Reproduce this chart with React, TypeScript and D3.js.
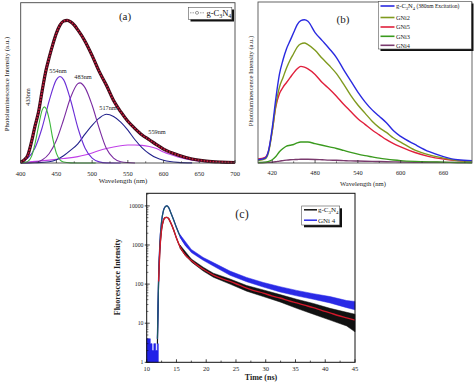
import React from "react";
import * as d3 from "d3";

// ---------- Panel (a): PL spectrum of g-C3N4 with Gaussian components ----------
const wlA = [400,405,410,415,420,425,430,435,440,445,450,455,460,465,470,475,480,490,500,510,520,530,540,550,560,570,580,590,600,620,640,660,680,700];
const envA = [0.5,2,5,13,23,32,45,57,66,74,81,86,88.5,89,88,86,83,76,67,57,48.5,39,32,26,21.5,17.5,14.5,11.5,8.7,5,2.5,1.2,0.6,0.3];

const wl433 = [400,405,410,415,420,425,430,433,436,440,445,450,455,460,470,480,505];
const pk433 = [0,0.3,1,4,12,23,33,35,33.5,27,15,6,2,0.6,0.1,0,0];
const wl454 = [400,410,420,430,440,450,455,460,470,480,490,500,510,520,540];
const pk454 = [0.7,3,9.4,22,39,52,54,52,39,22,9.4,3,0.7,0.1,0];
const wl483 = [400,420,430,440,450,460,470,480,483,490,500,510,520,530,540,560];
const pk483 = [0,0.5,1.9,5.9,14.2,27,41,49.5,50,47,36,21.5,9,3,0.8,0];
const wl517 = [400,420,440,450,460,470,480,490,500,510,520,530,540,550,560,570,580,590,600,620,640];
const pk517 = [0,0.2,0.8,2,4.5,8,12,18,23.5,28,30.4,29,25.5,20.5,14.5,9.5,5.8,3.2,1.7,0.4,0.1];
const wl559 = [400,420,440,460,480,490,500,510,520,530,540,550,560,570,580,590,600,620,640,660,680,700];
const pk559 = [0.3,1,1.8,2.8,4,5,6.3,7.8,9,10,10.8,11.2,11.2,11,10.3,9,6.8,3.8,1.8,0.7,0.4,0.2];

const ticksA = [400,450,500,550,600,650,700];
const minorA = [425,475,525,575,625,675];

// ---------- Panel (b): PL spectra of samples ----------
const wlB = [400,410,415,420,425,430,435,440,445,450,455,460,465,470,480,490,500,510,520,530,540,550,560,570,580,590,600,620,640,660,680,700];
const blueB = [2,3,8,22,40,55,64,71,76,81,86,88.5,89,88,81,76,71,65.5,58,51,44,38,33,29,25,20,16.5,11.5,7,4,2,1.5];
const oliveB = [1.5,2.5,7,20,36,47,53,59,64,68,72,74,74.5,73.5,70,65,60.5,55.5,49,42,36,31,26,22,19,15.5,13,8,5,3,1.5,1];
const redB = [2.5,3.5,8,20,35,43,47,50,53,56,58.5,60,59.5,58.5,55,50,46,41.5,36.5,32,27.5,24,20.5,17.5,14.5,12,10,6.5,4,2.5,1.5,1];
const greenB = [0.3,0.5,1,2,4,7,9,10.5,11,11.5,12.5,13,13,13,12,11,10,9,7.8,6.6,5.5,4.6,3.8,3,2.4,1.9,1.5,1,0.7,0.5,0.3,0.2];
const purpleB = [0.2,0.3,0.4,0.5,0.8,1.2,1.5,1.8,2,2.1,2.2,2.3,2.3,2.3,2.2,2,1.8,1.7,1.5,1.3,1.2,1.1,1,0.9,0.8,0.7,0.6,0.5,0.45,0.4,0.35,0.3];
const ticksB = [420,480,540,600,660];
const minorB = [450,510,570,630,690];

// ---------- Panel (c): fluorescence decay ----------
const tC = [11.8,12.0,12.2,12.5,12.8,13.1,13.4,13.7,14.0,14.5,15,15.6,16.5,17.5,18.4,19.5,21.2,22.5,24,25.5,26.8,28,29.6,31,32.4,34,35.2,36.5,38,39.5,40.8,42,43.6,45];
const blueC = [4,145,1000,4000,7500,9500,10000,9000,7000,4500,2800,1700,1000,700,560,440,320,250,190,150,130,110,96,84,74,65,59,53,48,44,40,36,31,28];
const blackC = [3,116,690,2500,4200,5000,5100,4700,3800,2500,1500,900,550,400,310,240,170,140,117,95,79,68,59,50,44,37,33,29,25,21,18.4,16,13.7,12];
const tNoise = [15.6,17.5,19.5,21.2,24,26.8,29.6,32.4,35.2,38,40.8,43.6,45];
const blackHi = [1000,440,270,190,135,92,71,54,41,32,24,19,17];
const blackLo = [820,370,215,150,100,66,48,35,24,17,12,8.5,6];
const blueHi = [1850,770,480,355,215,148,110,86,69,57,48,38,36];
const blueLo = [1560,640,405,290,168,115,84,63,50,41,33,25,22];
const tPre = [10,10.4,10.6,10.9,11.2,11.5,11.8,11.95];
const bluePre = [4,4,3,2,3,2,3,3];
const ticksCx = [10,15,20,25,30,35,40,45];
const ticksCy = [1,10,100,1000,10000];

const FONT = "'Liberation Serif', 'Times New Roman', serif";

function path(xs: number[], ys: number[], sx: any, sy: any, curve: any = d3.curveMonotoneX) {
  return d3.line<number>().x((_, i) => sx(xs[i])).y((d) => sy(d)).curve(curve)(ys) || "";
}

function Sub({ pre, size }: { pre?: string; size: number }) {
  return null;
}

function GCN({ x, y, size, extra }: { x: number; y: number; size: number; extra?: string }) {
  const s = size * 0.7;
  const dy = size * 0.3;
  return (
    <text x={x} y={y} fontSize={size} fontFamily={FONT} fill="#111">
      <tspan>g-C</tspan>
      <tspan fontSize={s} dy={dy}>3</tspan>
      <tspan dy={-dy}>N</tspan>
      <tspan fontSize={s} dy={dy}>4</tspan>
      {extra ? <tspan dy={-dy} fontSize={size * 0.85}>{extra}</tspan> : null}
    </text>
  );
}

export default function App() {
  // panel a scales
  const xA = d3.scaleLinear().domain([400, 700]).range([20.7, 235]);
  const yA = d3.scaleLinear().domain([0, 100]).range([163, 2.7]);
  // panel b
  const xB = d3.scaleLinear().domain([400, 700]).range([258, 472]);
  const yB = d3.scaleLinear().domain([0, 100]).range([163, 2]);
  // panel c
  const xC = d3.scaleLinear().domain([10, 45]).range([146.7, 355]);
  const yC = d3.scaleLog().domain([1, 21000]).range([362.3, 193.3]);

  const compsA = [
    { xs: wl559, ys: pk559, c: "#c040e8" },
    { xs: wl517, ys: pk517, c: "#22228c" },
    { xs: wl483, ys: pk483, c: "#7a2aa0" },
    { xs: wl454, ys: pk454, c: "#6a2ed6" },
    { xs: wl433, ys: pk433, c: "#3cb83c" },
  ];

  const seriesB = [
    { ys: purpleB, c: "#7a3a6e", name: "GNi4" },
    { ys: greenB, c: "#3a9a1e", name: "GNi3" },
    { ys: redB, c: "#e0203c", name: "GNi5" },
    { ys: oliveB, c: "#7f9a1e", name: "GNi2" },
    { ys: blueB, c: "#2a2ae0", name: "" },
  ];
  const legendB = [
    { c: "#2a2ae0", name: "" },
    { c: "#7f9a1e", name: "GNi2" },
    { c: "#e0203c", name: "GNi5" },
    { c: "#3a9a1e", name: "GNi3" },
    { c: "#7a3a6e", name: "GNi4" },
  ];
  const legYB = [6, 17.5, 27, 36.3, 45.3];

  const minorCy: number[] = [];
  for (let e = 0; e < 5; e++) for (let m = 2; m <= 9; m++) { const v = m * Math.pow(10, e); if (v < 21000) minorCy.push(v); }
  const minorCx = [12.5,17.5,22.5,27.5,32.5,37.5,42.5];

  const band = (xs: number[], lo: number[], hi: number[]) =>
    d3.area<number>().x((_, i) => xC(xs[i])).y0((_, i) => yC(lo[i])).y1((_, i) => yC(hi[i])).curve(d3.curveLinear)(lo) || "";

  const preArea = d3.area<number>().x((_, i) => xC(tPre[i])).y0(yC(1)).y1((d) => yC(d)).curve(d3.curveStepAfter)(bluePre) || "";

  const fitIdx = tC.map((t, i) => i).filter((i) => tC[i] <= 15.6);

  return (
    <svg width={474} height={382} style={{ position: "absolute", left: 0, top: 0, background: "#fff" }} fontFamily={FONT}>
      <rect x={0} y={0} width={474} height={382} fill="#fff" />

      {/* ================= Panel (a) ================= */}
      <g>
        {compsA.map((c, i) => (
          <path key={i} d={path(c.xs, c.ys, xA, yA)} fill="none" stroke={c.c} strokeWidth={1.1} />
        ))}
        <path d={path(wlA, envA, xA, yA)} fill="none" stroke="#3a0a16" strokeWidth={3.2} />
        <path d={path(wlA, envA, xA, yA)} fill="none" stroke="#c8183c" strokeWidth={1.6} strokeDasharray="1.6,1.4" />
        <rect x={20.7} y={2.7} width={235 - 20.7} height={163 - 2.7} fill="none" stroke="#444" strokeWidth={0.9} />
        {ticksA.map((t) => (
          <g key={t}>
            <line x1={xA(t)} x2={xA(t)} y1={163} y2={160} stroke="#333" strokeWidth={0.8} />
            <text x={xA(t)} y={175.5} fontSize={6.5} textAnchor="middle" fill="#222">{t}</text>
          </g>
        ))}
        {minorA.map((t) => (
          <line key={t} x1={xA(t)} x2={xA(t)} y1={163} y2={161.3} stroke="#333" strokeWidth={0.7} />
        ))}
        <text x={123} y={182.5} fontSize={7} textAnchor="middle" fill="#222">Wavelength (nm)</text>
        <text transform="translate(8.5,84) rotate(-90)" fontSize={6.8} textAnchor="middle" fill="#222">Photoluminescence Intensity (a.u.)</text>
        <text x={125} y={19.5} fontSize={11} textAnchor="middle" fill="#222">(a)</text>
        {/* legend */}
        <rect x={190.5} y={9.5} width={43.5} height={12} fill="#111" />
        <rect x={188.3} y={7.3} width={43.5} height={12} fill="#fff" stroke="#555" strokeWidth={0.6} />
        <line x1={190} x2={205} y1={12.8} y2={12.8} stroke="#888" strokeWidth={0.8} strokeDasharray="1.5,1" />
        <circle cx={197} cy={12.8} r={1.5} fill="#fff" stroke="#666" strokeWidth={0.6} />
        <GCN x={206.5} y={15.8} size={8.5} />
        {/* peak labels */}
        <text transform="translate(29.5,97) rotate(-90)" fontSize={6.3} textAnchor="middle" fill="#222">433nm</text>
        <text x={58} y={73} fontSize={6.3} textAnchor="middle" fill="#222">554nm</text>
        <text x={83} y={79} fontSize={6.3} textAnchor="middle" fill="#222">483nm</text>
        <text x={108} y={110} fontSize={6.3} textAnchor="middle" fill="#222">517nm</text>
        <text x={157} y={134} fontSize={6.3} textAnchor="middle" fill="#222">559nm</text>
      </g>

      {/* ================= Panel (b) ================= */}
      <g>
        {seriesB.map((s, i) => (
          <path key={i} d={path(wlB, s.ys, xB, yB)} fill="none" stroke={s.c} strokeWidth={1.4} />
        ))}
        <rect x={258} y={2} width={472 - 258} height={163 - 2} fill="none" stroke="#555" strokeWidth={0.9} />
        {ticksB.map((t) => (
          <g key={t}>
            <line x1={xB(t)} x2={xB(t)} y1={163} y2={160} stroke="#333" strokeWidth={0.8} />
            <text x={xB(t)} y={175} fontSize={6.3} textAnchor="middle" fill="#222">{t}</text>
          </g>
        ))}
        {minorB.map((t) => (
          <line key={t} x1={xB(t)} x2={xB(t)} y1={163} y2={161.3} stroke="#333" strokeWidth={0.7} />
        ))}
        <text x={363} y={185.5} fontSize={6.6} textAnchor="middle" fill="#222">Wavelength (nm)</text>
        <text transform="translate(252.5,81) rotate(-90)" fontSize={6.5} textAnchor="middle" fill="#222">Photoluminescence Intensity (a.u.)</text>
        <text x={343} y={22.5} fontSize={11} textAnchor="middle" fill="#222">(b)</text>
        {/* legend */}
        <rect x={380.5} y={3.5} width={93} height={47.5} fill="#111" />
        <rect x={378.3} y={1.5} width={93} height={47.5} fill="#fff" stroke="#555" strokeWidth={0.6} />
        {legendB.map((l, i) => (
          <g key={i}>
            <line x1={380.5} x2={394.5} y1={legYB[i]} y2={legYB[i]} stroke={l.c} strokeWidth={1.6} />
            {i === 0 ? (
              <GCN x={396} y={legYB[i] + 2.3} size={6.5} extra=" (380nm Excitation)" />
            ) : (
              <text x={396} y={legYB[i] + 2.3} fontSize={6.3} fill="#222">{l.name}</text>
            )}
          </g>
        ))}
      </g>

      {/* ================= Panel (c) ================= */}
      <g>
        <path d={preArea} fill="#2222e8" stroke="#2222e8" strokeWidth={0.6} />
        {/* g-C3N4 data + fit */}
        <path d={band(tNoise, blackLo, blackHi)} fill="#111" stroke="#111" strokeWidth={0.5} />
        <path d={path(tC, blackC, xC, yC)} fill="none" stroke="#111" strokeWidth={1.2} />
        {/* GNi 4 data */}
        <path d={band(tNoise, blueLo, blueHi)} fill="#2a2ae6" stroke="#2a2ae6" strokeWidth={0.5} />
        <path d={path(tC, blueC, xC, yC)} fill="none" stroke="#2a2ae6" strokeWidth={1.3} />
        <path d={path(fitIdx.map((i) => tC[i]), fitIdx.map((i) => blueC[i]), xC, yC)} fill="none" stroke="#1c5c5a" strokeWidth={1.1} />
        {/* fit for g-C3N4 */}
        <path d={path(tC.slice(1), blackC.slice(1), xC, yC)} fill="none" stroke="#d0182a" strokeWidth={1.4} />

        <rect x={146.7} y={193.3} width={355 - 146.7} height={362.3 - 193.3} fill="none" stroke="#111" strokeWidth={1} />
        {ticksCx.map((t) => (
          <g key={t}>
            <line x1={xC(t)} x2={xC(t)} y1={362.3} y2={359.3} stroke="#111" strokeWidth={0.8} />
            <text x={xC(t)} y={370.5} fontSize={6.5} textAnchor="middle" fill="#222">{t}</text>
          </g>
        ))}
        {minorCx.map((t) => (
          <line key={t} x1={xC(t)} x2={xC(t)} y1={362.3} y2={360.6} stroke="#111" strokeWidth={0.7} />
        ))}
        {ticksCy.map((t) => (
          <g key={t}>
            <line x1={144.7} x2={149.7} y1={yC(t)} y2={yC(t)} stroke="#111" strokeWidth={0.8} />
            <text x={143.5} y={yC(t) + 2} fontSize={5.8} textAnchor="end" fill="#222">{t}</text>
          </g>
        ))}
        {minorCy.map((t) => (
          <line key={t} x1={146.7} x2={148.4} y1={yC(t)} y2={yC(t)} stroke="#111" strokeWidth={0.6} />
        ))}
        <text x={261} y={380} fontSize={8} textAnchor="middle" fill="#222" fontWeight="bold">Time (ns)</text>
        <text transform="translate(120,277) rotate(-90)" fontSize={8} textAnchor="middle" fill="#222" fontWeight="bold">Fluorescence Intensity</text>
        <text x={242} y={217.5} fontSize={12} textAnchor="middle" fill="#222">(c)</text>
        {/* legend */}
        <rect x={304} y={208.3} width={38} height={19} fill="#111" />
        <rect x={301.7} y={206} width={38} height={19} fill="#fff" stroke="#555" strokeWidth={0.6} />
        <line x1={304} x2={317} y1={209.8} y2={209.8} stroke="#111" strokeWidth={1.5} />
        <GCN x={318} y={212.3} size={7} />
        <line x1={304} x2={317} y1={220.2} y2={220.2} stroke="#2a2ae6" strokeWidth={1.5} />
        <text x={318} y={222.7} fontSize={7} fill="#222">GNi 4</text>
      </g>
    </svg>
  );
}
